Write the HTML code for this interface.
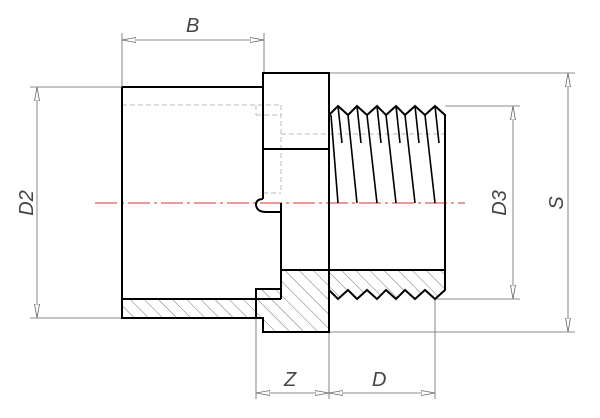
<!DOCTYPE html>
<html><head><meta charset="utf-8"><style>
html,body{margin:0;padding:0;background:#fff;width:600px;height:418px;overflow:hidden}
svg{display:block}
text{font-family:"Liberation Sans",sans-serif;font-style:italic;font-size:20px;fill:#444}
</style></head><body>
<svg width="600" height="418" viewBox="0 0 600 418" xmlns="http://www.w3.org/2000/svg">
<defs>
<pattern id="h" width="10" height="10" patternUnits="userSpaceOnUse" patternTransform="rotate(-45)">
<line x1="0" y1="0" x2="0" y2="10" stroke="#555" stroke-width="0.8"/>
</pattern>
<marker id="a" viewBox="0 0 14 6" refX="14" refY="3" markerWidth="14" markerHeight="6" orient="auto-start-reverse" markerUnits="userSpaceOnUse">
<path d="M0,0.5 L14,3 L0,5.5 Z" fill="#fff" stroke="#666" stroke-width="0.8"/>
</marker>
</defs>
<path d="M122,299 L256,299 L256,289 L281,289 L281,270 L445,270 L445,290 L435,299 L425,290 L415,299 L405,290 L396,299 L386,290 L377,299 L367,290 L357,299 L348,290 L338,299 L329,290 L329,332 L263,332 L263,318 L122,318 Z" fill="url(#h)"/>
<g stroke="#bbb" stroke-width="1" stroke-dasharray="5,3" fill="none">
<line x1="122" y1="105" x2="281" y2="105"/>
<line x1="256" y1="105" x2="256" y2="115"/>
<line x1="256" y1="115" x2="281" y2="115"/>
<line x1="281" y1="105" x2="281" y2="193"/>
<line x1="281" y1="134" x2="445" y2="134"/>
<line x1="263" y1="193" x2="281" y2="193"/>
</g>
<g stroke="#666" stroke-width="0.8" fill="none">
<line x1="122" y1="33" x2="122" y2="87"/>
<line x1="264" y1="33" x2="264" y2="73"/>
<line x1="30" y1="87" x2="122" y2="87"/>
<line x1="30" y1="318" x2="122" y2="318"/>
<line x1="329" y1="73" x2="575" y2="73"/>
<line x1="329" y1="332" x2="575" y2="332"/>
<line x1="445" y1="106" x2="520" y2="106"/>
<line x1="435" y1="299" x2="520" y2="299"/>
<line x1="256" y1="318" x2="256" y2="399"/>
<line x1="329" y1="332" x2="329" y2="399"/>
<line x1="435" y1="299" x2="435" y2="399"/>
<line x1="122" y1="40" x2="264" y2="40" marker-start="url(#a)" marker-end="url(#a)"/>
<line x1="37" y1="87" x2="37" y2="318" marker-start="url(#a)" marker-end="url(#a)"/>
<line x1="513" y1="106" x2="513" y2="299" marker-start="url(#a)" marker-end="url(#a)"/>
<line x1="568" y1="73" x2="568" y2="332" marker-start="url(#a)" marker-end="url(#a)"/>
<line x1="256" y1="393" x2="329" y2="393" marker-start="url(#a)" marker-end="url(#a)"/>
<line x1="329" y1="393" x2="435" y2="393" marker-start="url(#a)" marker-end="url(#a)"/>
</g>
<line x1="95" y1="203" x2="465" y2="203" stroke="#d33" stroke-width="1" stroke-dasharray="22,4,3,4"/>
<g stroke="#000" stroke-width="2" fill="none" stroke-linejoin="miter">
<path d="M122,87 L263,87 M263,199 L263,73 L329,73 L329,332 L263,332 L263,318 L122,318 L122,87"/>
<line x1="263" y1="149" x2="329" y2="149"/>
<line x1="122" y1="299" x2="281" y2="299"/>
<path d="M256,318 L256,289 L281,289"/>
<path d="M281,299 L281,203"/>
<path d="M263,199 Q256,199 256,205 Q257,212 266,212 L281,212"/>
<path d="M281,270 L445,270"/>
<path d="M329,115 L338,106 L348,115 L357,106 L367,115 L377,106 L386,115 L396,106 L405,115 L415,106 L425,115 L435,106 L445,115 L445,290 L435,299 L425,290 L415,299 L405,290 L396,299 L386,290 L377,299 L367,290 L357,299 L348,290 L338,299 L329,290"/>
</g>
<g stroke="#000" stroke-width="1.6">
<line x1="331" y1="115" x2="338" y2="203"/>
<line x1="348" y1="115" x2="357" y2="203"/>
<line x1="367" y1="115" x2="377" y2="203"/>
<line x1="386" y1="115" x2="396" y2="203"/>
<line x1="405" y1="115" x2="415" y2="203"/>
<line x1="425" y1="115" x2="435" y2="203"/>
<line x1="338" y1="106" x2="342" y2="143"/>
<line x1="357" y1="106" x2="361" y2="143"/>
<line x1="377" y1="106" x2="381" y2="143"/>
<line x1="396" y1="106" x2="400" y2="143"/>
<line x1="415" y1="106" x2="419" y2="143"/>
<line x1="435" y1="106" x2="439" y2="143"/>
</g>
<text x="186" y="32">B</text>
<text x="284" y="386">Z</text>
<text x="372" y="386">D</text>
<text transform="translate(33,203) rotate(-90)" text-anchor="middle">D2</text>
<text transform="translate(506,203) rotate(-90)" text-anchor="middle">D3</text>
<text transform="translate(563,203) rotate(-90)" text-anchor="middle">S</text>
</svg>
</body></html>
